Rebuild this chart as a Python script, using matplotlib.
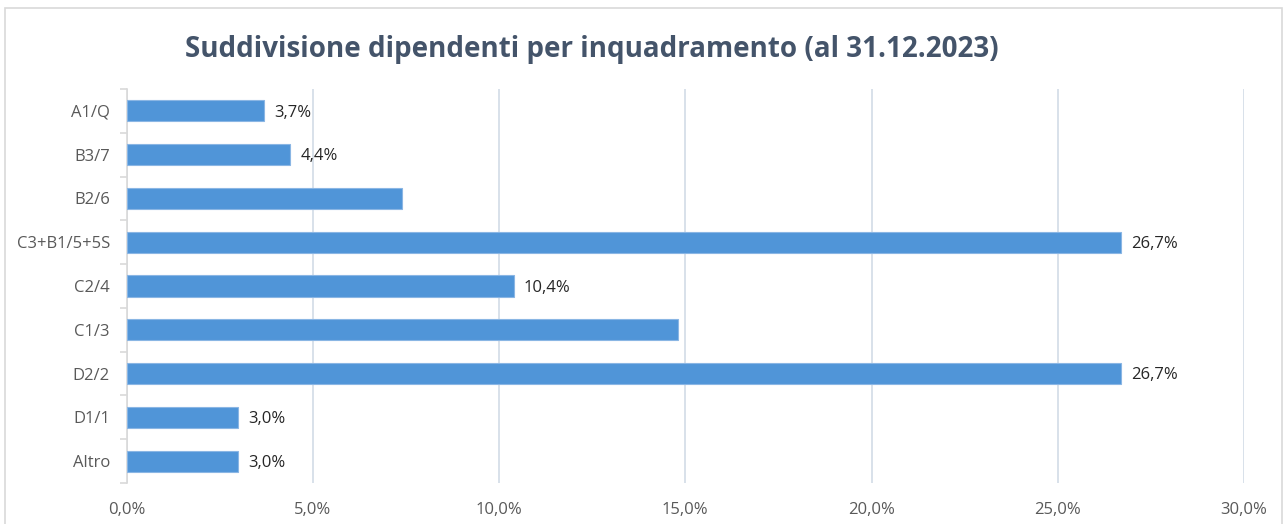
import numpy as np
import matplotlib.pyplot as plt
from matplotlib.patches import Rectangle
from matplotlib.ticker import FuncFormatter, FixedLocator

categories = ['A1/Q', 'B3/7', 'B2/6', 'C3+B1/5+5S', 'C2/4', 'C1/3', 'D2/2', 'D1/1', 'Altro']
values = [3.7, 4.4, 7.4, 26.7, 10.4, 14.8, 26.7, 3.0, 3.0]
shown_labels = ['3,7%', '4,4%', None, '26,7%', '10,4%', None, '26,7%', '3,0%', '3,0%']
x_ticks = [0, 5, 10, 15, 20, 25, 30]

plt.rcParams['font.family'] = ['Open Sans', 'DejaVu Sans']

fig = plt.figure(figsize=(12.87, 5.24), dpi=100)
fig.patch.set_facecolor('white')
fig.patches.append(Rectangle((5 / 1287, -0.01), 1277 / 1287, 1 - 8 / 524 + 0.01,
                             transform=fig.transFigure, fill=False,
                             edgecolor='#D9D9D9', linewidth=1.2))

ax = fig.add_axes([126.5 / 1287, 41 / 524, 1117.5 / 1287, 394 / 524])
y = np.arange(len(categories))
ax.barh(y, values, height=0.48, color='#5095D8', edgecolor='#8AB6E4', linewidth=0.8, zorder=3)

for yi, v, lab in zip(y, values, shown_labels):
    if lab:
        ax.text(v + 0.27, yi + 0.04, lab, va='center', ha='left', fontsize=12, color='#262626')

ax.set_xlim(0, 30)
ax.set_ylim(len(categories) - 0.5, -0.5)
ax.xaxis.set_major_locator(FixedLocator(x_ticks))
ax.xaxis.set_major_formatter(FuncFormatter(lambda v, p: f'{v:.1f}%'.replace('.', ',')))
ax.set_yticks(y)
ax.set_yticklabels(categories)
ax.yaxis.set_minor_locator(FixedLocator(np.arange(len(categories) + 1) - 0.5))

ax.grid(axis='x', color='#D6DEE8', linewidth=1.3, zorder=0)
for s in ['top', 'right', 'bottom']:
    ax.spines[s].set_visible(False)
ax.spines['left'].set_color('#D9D9D9')
ax.spines['left'].set_linewidth(1.2)

ax.tick_params(axis='x', length=0, pad=14, labelsize=12, labelcolor='#595959')
ax.tick_params(axis='y', which='major', length=0, pad=12, labelsize=12, labelcolor='#595959')
ax.tick_params(axis='y', which='minor', length=5, color='#D9D9D9', width=1.2)

fig.text(592 / 1287, 1 - 49 / 524, 'Suddivisione dipendenti per inquadramento (al 31.12.2023)',
         ha='center', va='center', fontsize=20, fontweight='bold', color='#44546A')

fig.savefig('out.png', dpi=100)
